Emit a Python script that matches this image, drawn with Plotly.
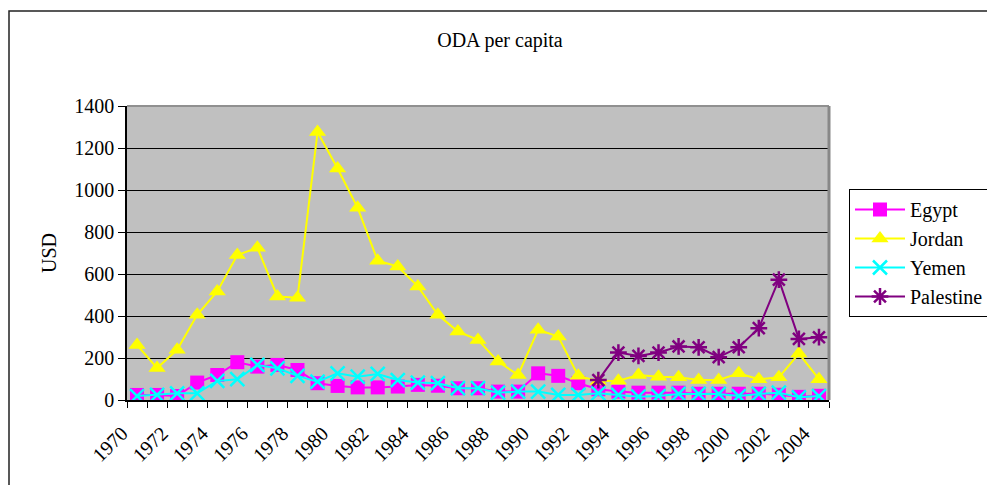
import plotly.graph_objects as go

years = list(range(1970, 2005))

egypt = [24, 24, 19, 83, 119, 180, 159, 167, 143, 80, 67, 60,
         60, 64, 72, 68, 56, 56, 40, 40, 127, 115, 80, 51,
         40, 35, 35, 35, 30, 30, 30, 30, 25, 15, 20]
jordan = [262, 152, 239, 406, 517, 690, 725, 493, 487, 1276, 1102, 915,
          663, 636, 541, 406, 326, 286, 183, 119, 334, 302, 115, 90,
          92, 119, 111, 108, 95, 95, 127, 99, 108, 221, 99]
yemen = [19, 24, 32, 32, 91, 99, 167, 151, 115, 87, 127, 111,
         124, 95, 83, 80, 56, 56, 35, 40, 40, 24, 24, 32,
         24, 16, 19, 29, 29, 29, 19, 29, 35, 13, 19]
pal_years = list(range(1993, 2005))
palestine = [95, 226, 210, 226, 255, 251, 204, 251, 342, 573, 291, 299]

tick_years = years[::2]
tick_labels = [str(y) for y in tick_years]
boundaries = [y - 0.5 for y in years] + [years[-1] + 0.5]

FONT = "'Liberation Serif', 'Times New Roman', 'DejaVu Serif', serif"

fig = go.Figure()
fig.add_trace(go.Scatter(x=years, y=egypt, name="Egypt", mode="lines+markers",
                         line=dict(color="#FF00FF", width=2),
                         marker=dict(symbol="square", size=14, color="#FF00FF")))
fig.add_trace(go.Scatter(x=years, y=jordan, name="Jordan", mode="lines+markers",
                         line=dict(color="#FFFF00", width=2),
                         marker=dict(symbol="triangle-up", size=15, color="#FFFF00")))
fig.add_trace(go.Scatter(x=years, y=yemen, name="Yemen", mode="lines+markers",
                         line=dict(color="#00FFFF", width=2),
                         marker=dict(symbol="x-thin-open", size=14, color="#00FFFF",
                                     line=dict(color="#00FFFF", width=2.5))))
fig.add_trace(go.Scatter(x=pal_years, y=palestine, name="Palestine", mode="lines+markers",
                         line=dict(color="#800080", width=2),
                         marker=dict(symbol="asterisk-open", size=14, color="#800080",
                                     line=dict(color="#800080", width=2.5))))

L, R, T, B = 127, 829, 106, 400
W, H = 987, 485
pw, ph = R - L, B - T

def px(x):
    return (x - L) / pw

def py(y):
    return (B - y) / ph

# outer chart border
fig.add_shape(type="rect", xref="paper", yref="paper",
              x0=px(9), x1=px(W + 20), y0=py(H + 20), y1=py(11),
              line=dict(color="#222222", width=1.5), fillcolor="rgba(0,0,0,0)", layer="below")
# plot area top/right border
fig.add_shape(type="line", xref="paper", yref="paper", x0=0, x1=1, y0=1, y1=1,
              line=dict(color="#909090", width=2))
fig.add_shape(type="line", xref="paper", yref="paper", x0=1, x1=1, y0=0, y1=1,
              line=dict(color="#888888", width=3))

fig.update_layout(
    width=W, height=H,
    margin=dict(l=L, r=W - R, t=T, b=H - B, autoexpand=False),
    paper_bgcolor="white",
    plot_bgcolor="#C0C0C0",
    font=dict(family=FONT, size=20, color="black"),
    title=dict(text="ODA per capita", x=500 / W, xanchor="center",
               y=1 - 40 / H, yanchor="middle", yref="container",
               font=dict(family=FONT, size=20, color="black")),
    showlegend=True,
    legend=dict(x=px(849), y=py(189), xanchor="left", yanchor="top",
                bordercolor="black", borderwidth=1, bgcolor="white",
                font=dict(family=FONT, size=20, color="black"),
                itemwidth=50, tracegroupgap=0),
    xaxis=dict(range=[1969.5, 2004.5], tickmode="array", automargin=False,
               tickvals=tick_years, ticktext=tick_labels, tickangle=-45,
               ticklabelshift=-15,
               ticks="outside", ticklen=12,
               tickcolor="rgba(0,0,0,0)", showgrid=False, zeroline=False,
               showline=True, linecolor="black", linewidth=1.5,
               tickfont=dict(family=FONT, size=20),
               minor=dict(tickmode="array", tickvals=boundaries, ticks="outside",
                          ticklen=6, tickcolor="black", showgrid=False)),
    yaxis=dict(range=[0, 1400], dtick=200, ticks="outside", ticklen=7,
               tickcolor="black", showgrid=True, gridcolor="black", gridwidth=1,
               zeroline=False, showline=True, linecolor="black", linewidth=1.5,
               automargin=False,
               tickfont=dict(family=FONT, size=20),
               title=dict(text="USD", standoff=12,
                          font=dict(family=FONT, size=20))),
)

fig.write_html("out.html", config={"displayModeBar": False},
               post_script="document.body.style.margin='0';")
